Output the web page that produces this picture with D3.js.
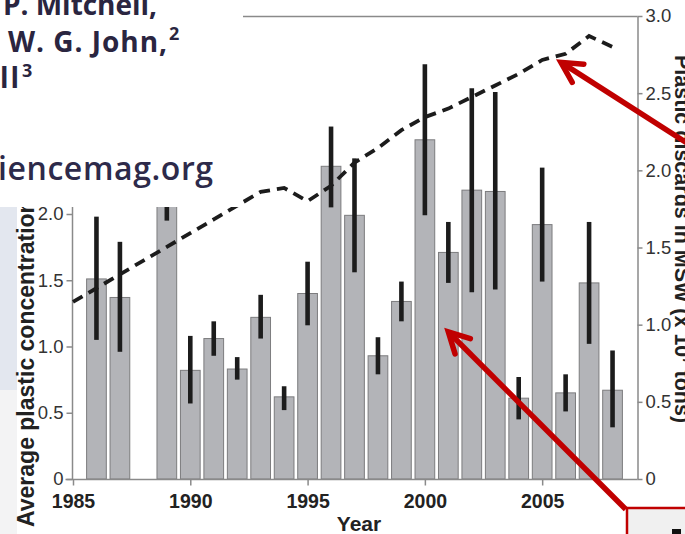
<!DOCTYPE html>
<html><head><meta charset="utf-8">
<script src="https://cdn.jsdelivr.net/npm/d3@7"></script>
<style>html,body{margin:0;padding:0;background:#fff;overflow:hidden}</style>
</head><body>
<svg id="c" width="685" height="534" xmlns="http://www.w3.org/2000/svg"></svg>
<script>
// ---- data ----
const barYears      = [1986,1987,1989,1990,1991,1992,1993,1994,1995,1996,1997,1998,1999,2000,2001,2002,2003,2004,2005,2006,2007,2008];
const concentration = [1.51,1.37,2.20,0.82,1.06,0.83,1.22,0.62,1.40,2.36,1.99,0.93,1.34,2.56,1.71,2.18,2.17,0.61,1.92,0.65,1.48,0.67];
const errLow        = [1.05,0.96,1.95,0.57,0.93,0.75,1.06,0.52,1.16,2.05,1.56,0.79,1.19,1.99,1.48,1.41,1.43,0.45,1.49,0.51,1.02,0.39];
const errHigh       = [1.98,1.79,2.45,1.08,1.19,0.92,1.39,0.70,1.64,2.66,2.42,1.07,1.49,3.13,1.94,2.95,2.92,0.77,2.35,0.79,1.94,0.97];
const lineYears     = [1985,1986,1987,1988,1989,1990,1991,1992,1993,1994,1995,1996,1997,1998,1999,2000,2001,2002,2003,2004,2005,2006,2007,2008];
const discards      = [1.147,1.236,1.326,1.415,1.504,1.593,1.682,1.772,1.86,1.886,1.80,1.90,2.05,2.145,2.26,2.345,2.40,2.475,2.55,2.625,2.715,2.755,2.87,2.80];
const leftTicks      = [0,0.5,1.0,1.5,2.0];
const leftTickLabels = ["0","0.5","1.0","1.5","2.0"];
const rightTicks      = [0,0.5,1.0,1.5,2.0,2.5,3.0];
const rightTickLabels = ["0","0.5","1.0","1.5","2.0","2.5","3.0"];
const xTicks = [1985,1990,1995,2000,2005];
const xTitle = "Year";
const yLeftTitle = "Average plastic concentration";
const yRightTitle = "Plastic discards in MSW (x 10";
const arrowTargets = [[2005.8, 2.70, "R"], [2001, 1.11, "L"]];

// ---- scales ----
const svg = d3.select("#c");
const x  = d3.scaleLinear().domain([1985, 2009]).range([73, 636]);
const yL = d3.scaleLinear().domain([0, 2]).range([479, 214]);
const yR = d3.scaleLinear().domain([0, 3]).range([479, 16]);
const AX = "#8a8a8a";

// left background strips of the underlying page
svg.append("rect").attr("x",0).attr("y",207).attr("width",17).attr("height",183).attr("fill","#e3e7ef");
svg.append("rect").attr("x",0).attr("y",390).attr("width",17).attr("height",144).attr("fill","#f3f3f4");

// frame
const pLeft = 72.5, pRight = 637.5, pTop = 16.5, pBottom = 479.5;
svg.append("line").attr("x1",pLeft).attr("x2",pLeft).attr("y1",pTop).attr("y2",pBottom).attr("stroke",AX).attr("stroke-width",1.5);
svg.append("line").attr("x1",pLeft).attr("x2",pRight).attr("y1",pTop).attr("y2",pTop).attr("stroke",AX).attr("stroke-width",1.5);

// bars
const bars = d3.zip(barYears, concentration, errLow, errHigh);
svg.append("g").selectAll("rect").data(bars).join("rect")
  .attr("x", d => x(d[0] - 0.42)).attr("width", d => x(d[0] + 0.42) - x(d[0] - 0.42))
  .attr("y", d => yL(d[1])).attr("height", d => yL(0) - yL(d[1]))
  .attr("fill", "#b3b4b8").attr("stroke", "#7c7c7e").attr("stroke-width", 1);

// error bars
svg.append("g").selectAll("line").data(bars).join("line")
  .attr("x1", d => x(d[0])).attr("x2", d => x(d[0]))
  .attr("y1", d => yL(d[2])).attr("y2", d => yL(d[3]))
  .attr("stroke", "#1c1c1c").attr("stroke-width", 4.6);

// dashed line
svg.append("path").datum(d3.zip(lineYears, discards))
  .attr("d", d3.line().x(d => x(d[0])).y(d => yR(d[1])))
  .attr("fill","none").attr("stroke","#1c1c1c").attr("stroke-width",3.8).attr("stroke-dasharray","11,7");

// axes
function styleAxis(g){
  g.selectAll(".tick line").attr("stroke",AX).attr("stroke-width",1.5);
  g.selectAll(".domain").attr("stroke",AX).attr("stroke-width",1.5);
}
const gL = svg.append("g").attr("transform",`translate(${pLeft},0)`)
  .call(d3.axisLeft(yL).tickValues(leftTicks).tickSize(6).tickPadding(3).tickFormat((d,i)=>leftTickLabels[i]));
gL.select(".domain").remove();
gL.selectAll("text").attr("font-family","'Liberation Sans', Arial, sans-serif").attr("font-size",18.5).attr("fill","#333");
styleAxis(gL);

const gR = svg.append("g").attr("transform",`translate(${pRight},0)`)
  .call(d3.axisRight(yR).tickValues(rightTicks).tickSize(5).tickPadding(3).tickSizeOuter(0).tickFormat((d,i)=>rightTickLabels[i]));
gR.selectAll("text").attr("font-family","'Liberation Sans', Arial, sans-serif").attr("font-size",18.5).attr("fill","#333");
styleAxis(gR);

const gB = svg.append("g").attr("transform",`translate(0,${pBottom})`)
  .call(d3.axisBottom(x).tickValues(xTicks).tickSize(6).tickPadding(9).tickSizeOuter(0).tickFormat(d3.format("d")));
gB.select(".domain").attr("d", `M${pLeft-7},0H${pRight}`);
gB.selectAll("text").attr("font-family","'Liberation Sans', Arial, sans-serif").attr("font-weight","bold").attr("font-size",19.5).attr("fill","#222");
styleAxis(gB);

// titles
svg.append("text").attr("x",359).attr("y",531).attr("text-anchor","middle")
  .attr("font-family","'Liberation Sans', Arial, sans-serif").attr("font-weight","bold").attr("font-size",21).attr("fill","#222").text(xTitle);
svg.append("text").attr("transform","translate(34,527) rotate(-90)")
  .attr("font-family","'Liberation Sans', Arial, sans-serif").attr("font-weight","bold").attr("font-size",23).attr("fill","#222").text(yLeftTitle);
const rt = svg.append("text").attr("transform","translate(675,55) rotate(90)")
  .attr("font-family","'Liberation Sans', Arial, sans-serif").attr("font-weight","bold").attr("font-size",21.5).attr("fill","#222");
rt.append("tspan").text(yRightTitle);
rt.append("tspan").attr("font-size",13).attr("dy",-8).text("7");
rt.append("tspan").attr("dy",8).text(" tons)");

// overlay of the page text (upper left)
svg.append("rect").attr("x",0).attr("y",0).attr("width",243).attr("height",207).attr("fill","#fff");
const OF = "'Open Sans', 'Noto Sans', sans-serif", OC = "#2a2540";
const t1 = svg.append("text").attr("x",3).attr("y",15).attr("font-family",OF).attr("font-weight",700).attr("font-size",28).attr("fill",OC);
t1.append("tspan").attr("textLength",154).attr("lengthAdjust","spacing").text("P. Mitchell,");
const t2 = svg.append("text").attr("x",8).attr("y",52).attr("font-family",OF).attr("font-weight",700).attr("font-size",28).attr("fill",OC);
t2.append("tspan").attr("textLength",159).attr("lengthAdjust","spacing").text("W. G. John,");
t2.append("tspan").attr("font-size",18).attr("dy",-12).attr("dx",1).text("2");
const t3 = svg.append("text").attr("x",0).attr("y",88).attr("font-family",OF).attr("font-weight",700).attr("font-size",28).attr("fill",OC);
t3.append("tspan").attr("textLength",19).attr("lengthAdjust","spacing").text("ll");
t3.append("tspan").attr("font-size",18).attr("dy",-11).attr("dx",1).text("3");
svg.append("text").attr("x",-2).attr("y",180).attr("font-family",OF).attr("font-weight",600).attr("font-size",32)
  .attr("fill","#2d2a4a").attr("textLength",215).attr("lengthAdjust","spacing").text("iencemag.org");

// bottom-right box
svg.append("rect").attr("x",627).attr("y",508).attr("width",80).attr("height",40).attr("fill","#f0f0f0").attr("stroke","#c00000").attr("stroke-width",2.5);
svg.append("rect").attr("x",672).attr("y",529).attr("width",9).attr("height",6).attr("fill","#111");

// red arrows
const RED = "#c00000";
arrowTargets.forEach(([yr, v, ax]) => {
  const tx = x(yr), ty = ax === "R" ? yR(v) : yL(v);
  let ang, len;
  if (ax === "R") { ang = Math.atan2(80,125); len = 220; }
  else { ang = Math.PI/4; len = Math.hypot(627 - tx, 508 - ty); }
  const ex = tx + len*Math.cos(ang), ey = ty + len*Math.sin(ang);
  svg.append("line").attr("x1",tx+3*Math.cos(ang)).attr("y1",ty+3*Math.sin(ang)).attr("x2",ex).attr("y2",ey)
    .attr("stroke",RED).attr("stroke-width",5.5);
  const a = 28*Math.PI/180, L = 23;
  const p1 = [tx + L*Math.cos(ang-a), ty + L*Math.sin(ang-a)];
  const p2 = [tx + L*Math.cos(ang+a), ty + L*Math.sin(ang+a)];
  svg.append("path").attr("d",`M${p1[0]},${p1[1]}L${tx},${ty}L${p2[0]},${p2[1]}`)
    .attr("fill","none").attr("stroke",RED).attr("stroke-width",5.5).attr("stroke-linejoin","miter").attr("stroke-linecap","round");
});
</script>
</body></html>
